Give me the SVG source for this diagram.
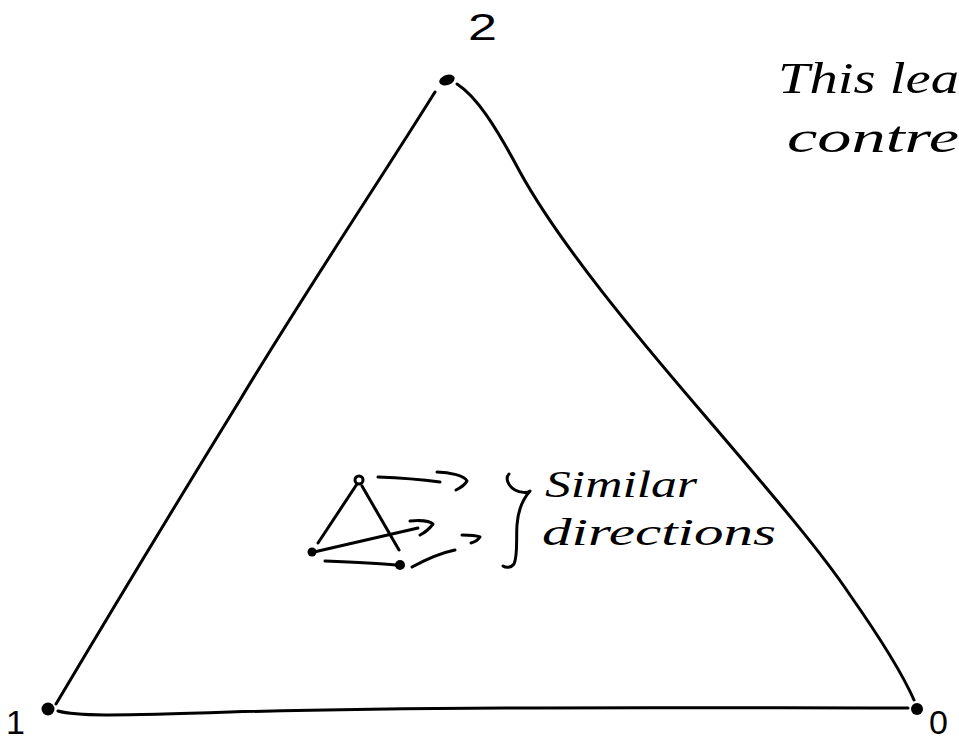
<svg xmlns="http://www.w3.org/2000/svg" width="959" height="742" viewBox="0 0 959 742">
<style>
.ln{fill:none;stroke:#000;stroke-width:3;stroke-linecap:round;stroke-linejoin:round}
.dot{fill:#000}
.hw{font-family:"Liberation Serif","DejaVu Serif",serif;font-style:italic;fill:#000}
.lbl{font-family:"Liberation Sans","DejaVu Sans",sans-serif;fill:#000}
</style>
<rect width="959" height="742" fill="#fff"/>
<g id="connectors">
  <path class="ln" d="M435,92 C380,180 300,300 240,400 C160,530 100,630 56,704"/>
  <path class="ln" d="M457,84 C476,96 495,125 520,172 C560,245 640,340 700,410 C770,492 820,550 850,595 C885,645 903,675 914,700"/>
  <path class="ln" d="M58,711 C75,716 110,716 230,712 C450,706 700,708 908,708"/>
  <path class="ln" d="M357,484 L318,543"/>
  <path class="ln" d="M362,486 L399,550"/>
  <path class="ln" d="M325,561 C350,562 375,563 396,565"/>
  <path class="ln" d="M314,552 L418,528"/>
  <path class="ln" d="M410,521 C420,520 430,521 433,524 C430,528 426,532 420,535"/>
  <path class="ln" d="M378,477 C405,478 425,480 440,482"/>
  <path class="ln" d="M437,472 C450,472 465,476 467,481 C465,485 460,488 456,490"/>
  <path class="ln" d="M412,567 C425,560 440,553 455,550"/>
  <path class="ln" d="M462,535 C468,535 475,535 480,537 C478,540 475,542 471,543"/>
  <path class="ln" d="M509,474 C505,478 508,486 515,490 C520,493 528,493 530,491 C522,500 518,510 517,525 C516,540 518,555 514,564 C511,568 506,568 503,566"/>
</g>
<g id="node-2">
  <ellipse class="dot" cx="447" cy="80" rx="8" ry="5" transform="rotate(-20 447 80)"/>
  <text class="lbl" x="468" y="40" font-size="36" textLength="29" lengthAdjust="spacingAndGlyphs">2</text>
</g>
<g id="node-1">
  <circle class="dot" cx="48" cy="709" r="6.5"/>
  <text class="lbl" x="6" y="734" font-size="34">1</text>
</g>
<g id="node-0">
  <circle class="dot" cx="917" cy="709" r="6"/>
  <text class="lbl" x="929" y="734" font-size="34">0</text>
</g>
<g id="small-a">
  <circle cx="359" cy="480" r="4" fill="#fff" stroke="#000" stroke-width="3"/>
</g>
<g id="small-b">
  <circle class="dot" cx="312" cy="552" r="4.5"/>
</g>
<g id="small-c">
  <circle class="dot" cx="400" cy="565" r="5"/>
</g>
<g id="note-similar">
  <text class="hw" x="545" y="497" font-size="38" textLength="152" lengthAdjust="spacingAndGlyphs">Similar</text>
  <text class="hw" x="542" y="545" font-size="38" textLength="234" lengthAdjust="spacingAndGlyphs">directions</text>
</g>
<g id="note-top">
  <text class="hw" x="778" y="93" font-size="44" textLength="181" lengthAdjust="spacingAndGlyphs">This lea</text>
  <text class="hw" x="787" y="152" font-size="44" textLength="172" lengthAdjust="spacingAndGlyphs">contre</text>
</g>
</svg>
